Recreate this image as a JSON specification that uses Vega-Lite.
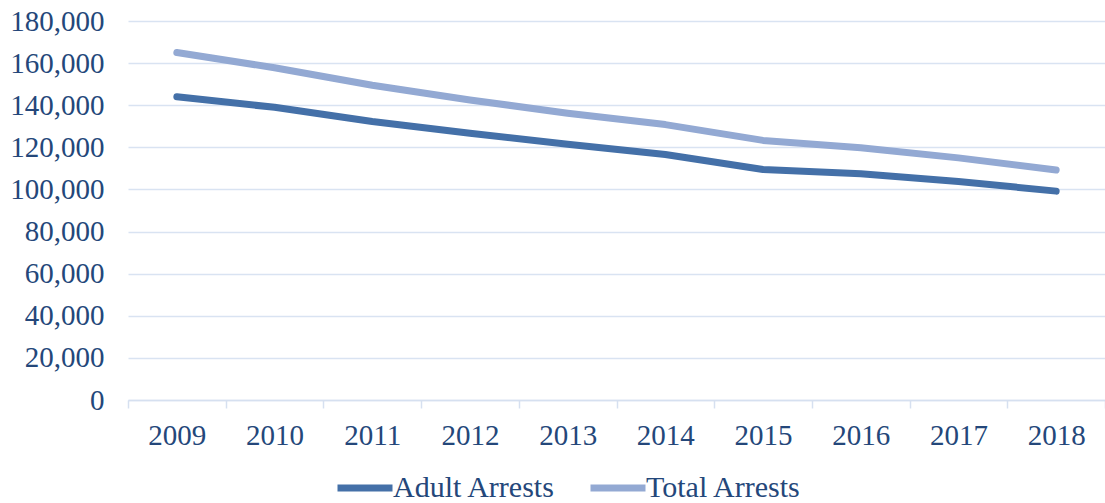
{
  "$schema": "https://vega.github.io/schema/vega-lite/v6.json",
  "autosize": {"type": "none"},
  "padding": {"left": 128, "top": 21, "right": 0, "bottom": 103},
  "width": 977,
  "height": 379,
  "background": "white",
  "config": {
    "view": {"stroke": null},
    "font": "Liberation Serif"
  },
  "data": {
    "values": [
      {"year": "2009", "series": "Adult Arrests", "value": 144000},
      {"year": "2010", "series": "Adult Arrests", "value": 139000},
      {"year": "2011", "series": "Adult Arrests", "value": 132300},
      {"year": "2012", "series": "Adult Arrests", "value": 126700},
      {"year": "2013", "series": "Adult Arrests", "value": 121500},
      {"year": "2014", "series": "Adult Arrests", "value": 116600},
      {"year": "2015", "series": "Adult Arrests", "value": 109500},
      {"year": "2016", "series": "Adult Arrests", "value": 107400},
      {"year": "2017", "series": "Adult Arrests", "value": 103800},
      {"year": "2018", "series": "Adult Arrests", "value": 99200},
      {"year": "2009", "series": "Total Arrests", "value": 165000},
      {"year": "2010", "series": "Total Arrests", "value": 157800},
      {"year": "2011", "series": "Total Arrests", "value": 149500},
      {"year": "2012", "series": "Total Arrests", "value": 142500},
      {"year": "2013", "series": "Total Arrests", "value": 136200},
      {"year": "2014", "series": "Total Arrests", "value": 130800},
      {"year": "2015", "series": "Total Arrests", "value": 123300},
      {"year": "2016", "series": "Total Arrests", "value": 119800},
      {"year": "2017", "series": "Total Arrests", "value": 115000},
      {"year": "2018", "series": "Total Arrests", "value": 109200}
    ]
  },
  "mark": {"type": "line", "strokeWidth": 7, "strokeCap": "round", "strokeJoin": "round"},
  "encoding": {
    "x": {
      "field": "year",
      "type": "ordinal",
      "scale": {"type": "band", "paddingInner": 0, "paddingOuter": 0},
      "axis": {
        "title": null,
        "labelAngle": 0,
        "labelFont": "Liberation Serif",
        "labelFontSize": 29,
        "labelColor": "#24477a",
        "labelPadding": 13,
        "tickBand": "extent",
        "tickSize": 8,
        "tickColor": "#d6e0f0",
        "tickWidth": 1.5,
        "domainColor": "#d6e0f0",
        "domainWidth": 1.5,
        "grid": false
      }
    },
    "y": {
      "field": "value",
      "type": "quantitative",
      "scale": {"domain": [0, 180000], "nice": false},
      "axis": {
        "title": null,
        "values": [0, 20000, 40000, 60000, 80000, 100000, 120000, 140000, 160000, 180000],
        "format": ",d",
        "labelFont": "Liberation Serif",
        "labelFontSize": 29,
        "labelColor": "#24477a",
        "labelPadding": 24,
        "ticks": false,
        "domain": false,
        "grid": true,
        "gridColor": "#d9e3f2",
        "gridWidth": 1.5
      }
    },
    "color": {
      "field": "series",
      "type": "nominal",
      "scale": {"domain": ["Adult Arrests", "Total Arrests"], "range": ["#4470a8", "#93a9d3"]},
      "legend": {
        "title": null,
        "orient": "none",
        "direction": "horizontal",
        "legendX": 206,
        "legendY": 436,
        "symbolType": "stroke",
        "symbolSize": 3025,
        "symbolStrokeWidth": 7,
        "labelFont": "Liberation Serif",
        "labelFontSize": 30,
        "labelLimit": 400,
        "labelColor": "#24477a",
        "labelOffset": -3,
        "columnPadding": 20,
        "padding": 0
      }
    }
  }
}
